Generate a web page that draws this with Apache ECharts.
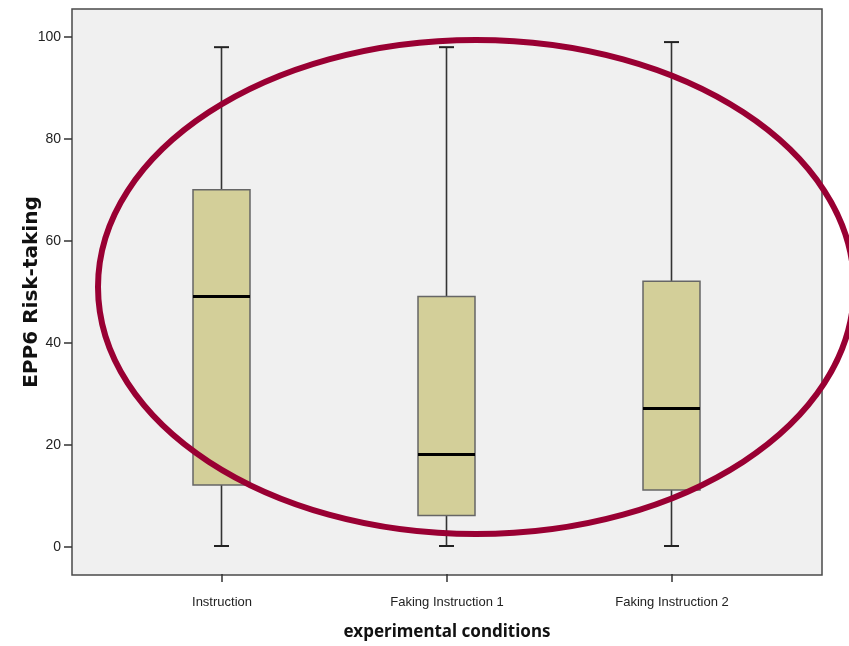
<!DOCTYPE html>
<html>
<head>
<meta charset="utf-8">
<script src="https://cdn.jsdelivr.net/npm/echarts@6/dist/echarts.min.js"></script>
<style>
  html, body { margin: 0; padding: 0; background: #ffffff; }
  #chart { width: 849px; height: 646px; }
</style>
</head>
<body>
<div id="chart"></div>
<script>
// Experimental conditions and five-number summaries of EPP6 Risk-taking
const categories = ['Instruction', 'Faking Instruction 1', 'Faking Instruction 2'];
const whiskerLow = [0, 0, 0];
const quartile1  = [12, 6, 11];
const medians    = [49, 18, 27];
const quartile3  = [70, 49, 52];
const whiskerHigh = [98, 98, 99];
const yTicks = [0, 20, 40, 60, 80, 100];

const boxRows = categories.map((c, i) =>
  [i, whiskerLow[i], quartile1[i], medians[i], quartile3[i], whiskerHigh[i]]);

const Y_MIN = -5.5, Y_MAX = 105.5;
const BOX_W = 57;
const CAP_W = 15;
const tickFont = '"Liberation Sans", Arial, sans-serif';

function renderBox(params, api) {
  const x = api.value(0);
  const pLow = api.coord([x, api.value(1)]);
  const pQ1 = api.coord([x, api.value(2)]);
  const pMed = api.coord([x, api.value(3)]);
  const pQ3 = api.coord([x, api.value(4)]);
  const pHigh = api.coord([x, api.value(5)]);
  const cx = Math.round(pMed[0]) - 0.5;
  const hb = BOX_W / 2, hc = CAP_W / 2;
  const whisk = { stroke: '#333333', lineWidth: 1.6 };
  return {
    type: 'group',
    children: [
      { type: 'line', shape: { x1: cx, y1: pHigh[1], x2: cx, y2: pQ3[1] }, style: whisk },
      { type: 'line', shape: { x1: cx, y1: pQ1[1], x2: cx, y2: pLow[1] }, style: whisk },
      { type: 'line', shape: { x1: cx - hc, y1: pHigh[1], x2: cx + hc, y2: pHigh[1] }, style: { stroke: '#222', lineWidth: 2 } },
      { type: 'line', shape: { x1: cx - hc, y1: pLow[1], x2: cx + hc, y2: pLow[1] }, style: { stroke: '#222', lineWidth: 2 } },
      { type: 'rect', shape: { x: cx - hb, y: pQ3[1], width: BOX_W, height: pQ1[1] - pQ3[1] },
        style: { fill: '#d3cf99', stroke: '#666666', lineWidth: 1.5 } },
      { type: 'line', shape: { x1: cx - hb, y1: pMed[1], x2: cx + hb, y2: pMed[1] },
        style: { stroke: '#000000', lineWidth: 3 } }
    ]
  };
}

const chart = echarts.init(document.getElementById('chart'), null, { renderer: 'canvas' });
chart.setOption({
  animation: false,
  backgroundColor: '#ffffff',
  grid: [
    // band area for the three conditions
    { left: 109.5, right: 64.5, top: 9, bottom: 71, show: false },
    // framed plot panel carrying the visible value axis
    { left: 72, right: 27, top: 9, bottom: 71, show: true, backgroundColor: '#f0f0f0',
      borderColor: '#4a4a4a', borderWidth: 1.5, z: 0 }
  ],
  xAxis: [
    {
      type: 'category', gridIndex: 0, data: categories,
      axisLine: { show: false, onZero: false },
      axisTick: { show: true, alignWithLabel: true, length: 8, lineStyle: { color: '#333', width: 1.5 } },
      axisLabel: { color: '#222', fontFamily: tickFont, fontSize: 13, margin: 22 },
      name: 'experimental conditions', nameLocation: 'middle', nameGap: 50, nameMoveOverlap: false,
      nameTextStyle: { fontFamily: '"Noto Sans", "Open Sans", sans-serif', fontWeight: 'bold', fontSize: 17, color: '#111' }
    },
    { type: 'value', gridIndex: 1, show: false }
  ],
  yAxis: [
    { type: 'value', gridIndex: 0, min: Y_MIN, max: Y_MAX, show: false },
    {
      type: 'value', gridIndex: 1, min: Y_MIN, max: Y_MAX,
      axisLine: { show: false },
      splitLine: { show: false },
      axisTick: { show: true, length: 8, customValues: yTicks, lineStyle: { color: '#333', width: 1.5 } },
      axisLabel: { color: '#222', fontFamily: tickFont, fontSize: 14, margin: 11, customValues: yTicks },
      name: 'EPP6 Risk-taking', nameLocation: 'middle', nameGap: 30, nameMoveOverlap: false,
      nameTextStyle: { fontFamily: '"DejaVu Sans", sans-serif', fontWeight: 'bold', fontSize: 20, color: '#111' }
    }
  ],
  series: [
    {
      type: 'custom', xAxisIndex: 0, yAxisIndex: 0,
      renderItem: renderBox,
      encode: { x: 0, y: [1, 2, 3, 4, 5] },
      data: boxRows,
      z: 5
    }
  ],
  graphic: [
    {
      type: 'ellipse', z: 100,
      shape: { cx: 476, cy: 287, rx: 378, ry: 247 },
      style: { fill: null, stroke: '#990033', lineWidth: 6 }
    }
  ]
});
</script>
</body>
</html>
